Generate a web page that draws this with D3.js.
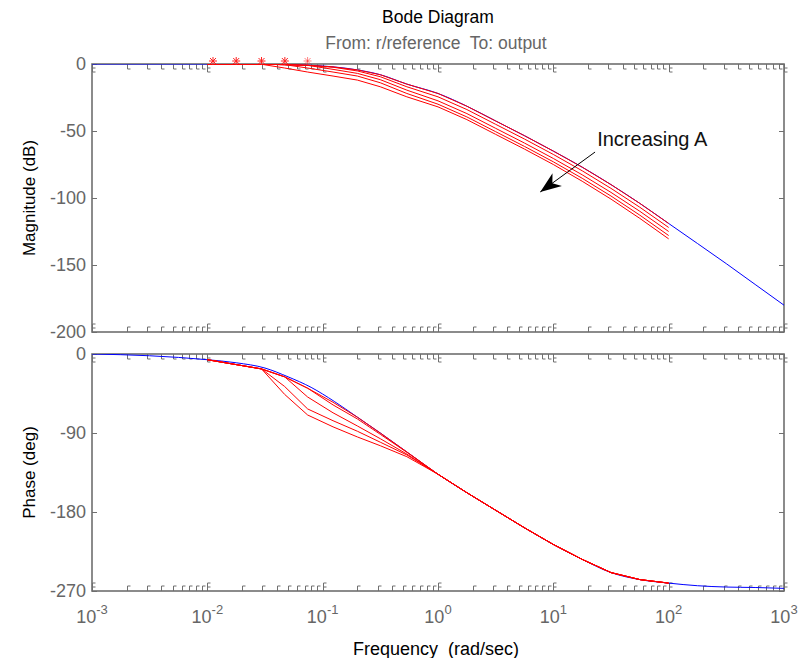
<!DOCTYPE html>
<html>
<head>
<meta charset="utf-8">
<title>Bode Diagram</title>
<script src="https://d3js.org/d3.v7.min.js"></script>
<style>
  body { margin: 0; background: #fff; }
  text { font-family: "Liberation Sans", Arial, Helvetica, sans-serif; white-space: pre; }
</style>
</head>
<body>
<div id="chart"></div>
<script>
// blue curve (nominal system), frequency in rad/sec
var blueFreq  = [0.001, 0.00316, 0.01, 0.0178, 0.0316, 0.0501, 0.0794, 0.126, 0.2, 0.316, 0.537, 1,
                 1.78, 3.16, 5.62, 10, 17.8, 31.6, 56.2, 100, 178, 316, 562, 1000];
var blueMag   = [0, 0, 0, -0.1, -0.2, -0.5, -1.0, -2.2, -4.4, -8, -15, -22,
                 -31.5, -42.5, -53.5, -65, -77, -90, -104, -119, -134, -149, -164.5, -180];
var bluePhase = [0, -2, -6.5, -10, -16, -26, -38, -54, -72, -90, -111.6, -137,
                 -158, -178, -198, -217, -234, -249, -257, -261, -264, -265.5, -266, -267];

// red curves (varying A), sampled more coarsely
var redFreq = [0.01, 0.0295, 0.0468, 0.0741, 0.123, 0.2, 0.316, 0.537, 1,
               1.78, 3.16, 5.62, 10, 17.8, 31.6, 56.2, 100];
var redMag = [
  [0, -0.2, -0.5, -1.0, -2.2, -4.4, -8, -15, -22, -31.5, -42.5, -53.5, -65, -77, -90, -104, -119],
  [0, -0.2, -0.5, -1.0, -2.4, -5.2, -9.5, -17, -24.5, -34, -45, -56, -67.5, -79.7, -92.8, -106.9, -122],
  [0, -0.2, -0.5, -1.0, -4, -7, -11.7, -19.5, -27.5, -37, -48, -59, -70.5, -82.7, -95.8, -109.9, -125],
  [0, -0.2, -0.5, -3, -6, -9, -14, -22, -30, -39.5, -50.5, -61.5, -73, -85.3, -98.5, -112.8, -128],
  [0, -0.2, -3, -6, -9, -12, -17, -24.5, -32, -41.5, -52.5, -63.5, -75, -87.5, -100.8, -115.2, -130.5]
];
var redPhase = [
  [-6.5, -17, -26, -39, -55, -72, -90, -111.6, -137, -158, -178, -198, -217, -234, -249, -257, -261],
  [-6.5, -17, -26, -39, -58, -74, -91.5, -112, -137, -158, -178, -198, -217, -234, -249, -257, -261],
  [-6.5, -17, -26, -49, -67, -82, -96.5, -114, -137, -158, -178, -198, -217, -234, -249, -257, -261],
  [-6.5, -17, -37, -62.6, -76, -88, -100.5, -115, -137, -158, -178, -198, -217, -234, -249, -257, -261],
  [-6.5, -17, -46, -69.5, -83, -94.5, -104.5, -117, -137, -158, -178, -198, -217, -234, -249, -257, -261]
];
var starFreq = [0.0112, 0.0178, 0.0295, 0.047, 0.074];

var magTicks = [0, -50, -100, -150, -200];
var phaseTicks = [0, -90, -180, -270];
var decadeExp = [-3, -2, -1, 0, 1, 2, 3];

// annotation (data coordinates)
var noteText = "Increasing A";
var notePos = {w: 24, db: -61};
var arrowTail = {w: 23, db: -65.7};
var arrowTip = {w: 7.7, db: -95.5};

var W = 805, H = 658;
var axisColor = "#6f6f6f";

var svg = d3.select("#chart").append("svg")
    .attr("width", W).attr("height", H);

var x = d3.scaleLog().domain([1e-3, 1e3]).range([92, 784]);
var yMag = d3.scaleLinear().domain([-200, 0]).range([332, 64]);
var yPh = d3.scaleLinear().domain([-270, 0]).range([591, 354]);

// minor tick positions 2..9 per decade
var minor = [];
decadeExp.slice(0, -1).forEach(function(e) {
  for (var m = 2; m <= 9; m++) minor.push(m * Math.pow(10, e));
});
var major = decadeExp.map(function(e) { return Math.pow(10, e); });

function drawPanel(y, ticks, id) {
  var y0 = y.range()[0], y1 = y.range()[1];
  var g = svg.append("g");

  svg.append("clipPath").attr("id", id)
    .append("rect").attr("x", x.range()[0]).attr("y", y1)
    .attr("width", x.range()[1] - x.range()[0]).attr("height", y0 - y1);

  // minor ticks top (pointing down) and bottom (pointing up), little foot like the original
  g.selectAll(".mt").data(minor).enter().append("path")
    .attr("fill", "none").attr("stroke", axisColor).attr("stroke-width", 1)
    .attr("d", function(d) { var px = Math.round(x(d)) + 0.5; return "M" + px + "," + y1 + "v5h3"; });
  g.selectAll(".mb").data(minor).enter().append("path")
    .attr("fill", "none").attr("stroke", axisColor).attr("stroke-width", 1)
    .attr("d", function(d) { var px = Math.round(x(d)) + 0.5; return "M" + px + "," + y0 + "v-5h3"; });
  // major ticks
  g.selectAll(".Mt").data(major).enter().append("path")
    .attr("fill", "none").attr("stroke", axisColor).attr("stroke-width", 1)
    .attr("d", function(d) { var px = Math.round(x(d)) + 0.5;
      return "M" + px + "," + y1 + "v8h3M" + px + "," + (y1 + 4) + "h3M" + px + "," + y0 + "v-8h3M" + px + "," + (y0 - 4) + "h3"; });
  // y ticks both sides
  g.selectAll(".yt").data(ticks).enter().append("path")
    .attr("fill", "none").attr("stroke", axisColor).attr("stroke-width", 1)
    .attr("d", function(d) { var py = Math.round(y(d)) + 0.5;
      return "M" + x.range()[0] + "," + py + "h5M" + x.range()[1] + "," + py + "h-5"; });

  // box
  g.append("rect").attr("x", x.range()[0]).attr("y", y1)
    .attr("width", x.range()[1] - x.range()[0]).attr("height", y0 - y1)
    .attr("fill", "none").attr("stroke", axisColor).attr("stroke-width", 1.6);

  // y labels
  g.selectAll(".yl").data(ticks).enter().append("text")
    .attr("x", x.range()[0] - 6).attr("y", function(d) { return y(d); })
    .attr("dy", "0.36em").attr("text-anchor", "end")
    .attr("font-size", 18).attr("fill", "#666")
    .text(function(d) { return d; });

  return svg.append("g").attr("clip-path", "url(#" + id + ")");
}

var gMag = drawPanel(yMag, magTicks, "clipMag");
var gPh = drawPanel(yPh, phaseTicks, "clipPh");

var blueMagLine = d3.line().curve(d3.curveMonotoneX)
  .x(function(d, i) { return x(blueFreq[i]); }).y(function(d) { return yMag(d); });
var bluePhLine = d3.line().curve(d3.curveMonotoneX)
  .x(function(d, i) { return x(blueFreq[i]); }).y(function(d) { return yPh(d); });
var redMagLine = d3.line()
  .x(function(d, i) { return x(redFreq[i]); }).y(function(d) { return yMag(d); });
var redPhLine = d3.line()
  .x(function(d, i) { return x(redFreq[i]); }).y(function(d) { return yPh(d); });

gMag.append("path").datum(blueMag).attr("fill", "none").attr("stroke", "#0000ff")
  .attr("stroke-width", 1).attr("d", blueMagLine);
gPh.append("path").datum(bluePhase).attr("fill", "none").attr("stroke", "#0000ff")
  .attr("stroke-width", 1).attr("d", bluePhLine);

gMag.selectAll(".rm").data(redMag).enter().append("path")
  .attr("fill", "none").attr("stroke", "#ff0000").attr("stroke-width", 1).attr("d", redMagLine);
gPh.selectAll(".rp").data(redPhase).enter().append("path")
  .attr("fill", "none").attr("stroke", "#ff0000").attr("stroke-width", 1).attr("d", redPhLine);

// red star markers on the 0 dB line
svg.selectAll(".star").data(starFreq).enter().append("path")
  .attr("fill", "none").attr("stroke", "#ff2020").attr("stroke-width", 1)
  .attr("opacity", function(d, i) { return i == starFreq.length - 1 ? 0.55 : 1; })
  .attr("transform", function(d) { return "translate(" + x(d) + "," + (yMag(0) - 3) + ")"; })
  .attr("d", "M0,-4V4M-4,0H4M-3,-3L3,3M-3,3L3,-3");

// x tick labels 10^n
var xl = svg.selectAll(".xl").data(decadeExp).enter().append("text")
  .attr("x", function(d) { return x(Math.pow(10, d)); }).attr("y", 623)
  .attr("text-anchor", "middle").attr("font-size", 18).attr("fill", "#666");
xl.append("tspan").text("10");
xl.append("tspan").attr("dy", -9).attr("font-size", 13).text(function(d) { return d; });

// titles
svg.append("text").attr("x", 438).attr("y", 23).attr("text-anchor", "middle")
  .attr("font-size", 17.5).attr("fill", "#000").text("Bode Diagram");
svg.append("text").attr("x", 436).attr("y", 49).attr("text-anchor", "middle")
  .attr("font-size", 17.5).attr("fill", "#666").text("From: r/reference  To: output");

svg.append("text").attr("x", 436).attr("y", 655).attr("text-anchor", "middle")
  .attr("font-size", 18).attr("fill", "#000")
  .text("Frequency  (rad/sec)");
svg.append("text").attr("transform", "translate(35," + (yMag(-100)) + ") rotate(-90)")
  .attr("text-anchor", "middle").attr("font-size", 17).attr("fill", "#000")
  .text("Magnitude (dB)");
svg.append("text").attr("transform", "translate(35," + (yPh(-135)) + ") rotate(-90)")
  .attr("text-anchor", "middle").attr("font-size", 17).attr("fill", "#000")
  .text("Phase (deg)");

// annotation arrow
var tx = x(arrowTail.w), ty = yMag(arrowTail.db);
var hx = x(arrowTip.w), hy = yMag(arrowTip.db);
var ang = Math.atan2(hy - ty, hx - tx);
svg.append("line").attr("x1", tx).attr("y1", ty).attr("x2", hx).attr("y2", hy)
  .attr("stroke", "#000").attr("stroke-width", 1);
svg.append("path").attr("fill", "#000")
  .attr("transform", "translate(" + hx + "," + hy + ") rotate(" + (ang * 180 / Math.PI) + ")")
  .attr("d", "M0,0L-21,-8L-15,0L-21,8Z");
svg.append("text").attr("x", x(notePos.w)).attr("y", yMag(notePos.db))
  .attr("font-size", 20).attr("fill", "#111").text(noteText);
</script>
</body>
</html>
